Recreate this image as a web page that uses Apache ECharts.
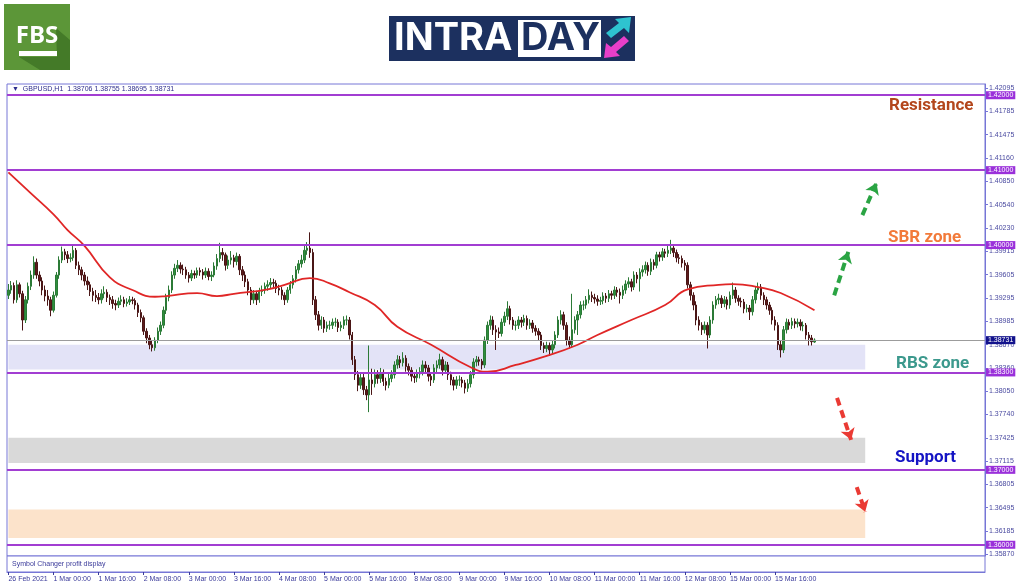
<!DOCTYPE html>
<html>
<head>
<meta charset="utf-8">
<script src="https://cdn.jsdelivr.net/npm/echarts@6.0.0/dist/echarts.min.js"></script>
<style>
  html, body { margin: 0; padding: 0; background: #fff; }
  #chart { width: 1024px; height: 587px; }
</style>
</head>
<body>
<div id="chart"></div>
<script>
// GBPUSD H1, 26 Feb 2021 08:00 .. 16 Mar 2021 (bars: open, close, low, high)
const candles = [
  [1.3933,1.3940,1.3928,1.3948],[1.3940,1.3946,1.3935,1.3952],[1.3946,1.3927,1.3922,1.3950],[1.3927,1.3947,1.3923,1.3953],
  [1.3947,1.3935,1.3930,1.3950],[1.3935,1.3900,1.3886,1.3939],[1.3900,1.3927,1.3896,1.3932],[1.3927,1.3945,1.3922,1.3950],
  [1.3945,1.3960,1.3940,1.3966],[1.3960,1.3977,1.3955,1.3985],[1.3977,1.3960,1.3955,1.3982],[1.3960,1.3952,1.3945,1.3965],
  [1.3952,1.3940,1.3933,1.3957],[1.3940,1.3932,1.3925,1.3946],[1.3932,1.3927,1.3919,1.3940],[1.3927,1.3913,1.3905,1.3931],
  [1.3913,1.3933,1.3910,1.3938],[1.3933,1.3960,1.3930,1.3964],[1.3960,1.3980,1.3955,1.3985],[1.3980,1.3991,1.3976,1.3998],
  [1.3991,1.3987,1.3980,1.3995],[1.3987,1.3982,1.3976,1.3992],[1.3982,1.3983,1.3977,1.3989],[1.3983,1.3993,1.3979,1.3999],
  [1.3993,1.3973,1.3968,1.3996],[1.3973,1.3967,1.3960,1.3978],[1.3967,1.3960,1.3953,1.3971],[1.3960,1.3952,1.3946,1.3964],
  [1.3952,1.3947,1.3940,1.3958],[1.3947,1.3938,1.3932,1.3951],[1.3938,1.3933,1.3925,1.3943],[1.3933,1.3930,1.3924,1.3940],
  [1.3930,1.3927,1.3921,1.3936],[1.3927,1.3935,1.3922,1.3941],[1.3935,1.3937,1.3929,1.3945],[1.3937,1.3930,1.3924,1.3941],
  [1.3930,1.3927,1.3920,1.3934],[1.3927,1.3922,1.3915,1.3932],[1.3922,1.3920,1.3913,1.3927],[1.3920,1.3925,1.3916,1.3930],
  [1.3925,1.3927,1.3920,1.3933],[1.3927,1.3922,1.3917,1.3931],[1.3922,1.3924,1.3918,1.3929],[1.3924,1.3927,1.3920,1.3932],
  [1.3927,1.3926,1.3921,1.3931],[1.3926,1.3920,1.3914,1.3929],[1.3920,1.3910,1.3904,1.3923],[1.3910,1.3903,1.3897,1.3914],
  [1.3903,1.3885,1.3880,1.3906],[1.3885,1.3876,1.3869,1.3889],[1.3876,1.3867,1.3861,1.3880],[1.3867,1.3863,1.3858,1.3872],
  [1.3863,1.3873,1.3859,1.3877],[1.3873,1.3885,1.3869,1.3890],[1.3885,1.3893,1.3880,1.3898],[1.3893,1.3913,1.3889,1.3918],
  [1.3913,1.3930,1.3908,1.3935],[1.3930,1.3940,1.3925,1.3946],[1.3940,1.3960,1.3936,1.3965],[1.3960,1.3969,1.3955,1.3975],
  [1.3969,1.3973,1.3964,1.3980],[1.3973,1.3968,1.3962,1.3977],[1.3968,1.3967,1.3960,1.3974],[1.3967,1.3960,1.3955,1.3971],
  [1.3960,1.3956,1.3950,1.3964],[1.3956,1.3962,1.3952,1.3967],[1.3962,1.3960,1.3955,1.3966],[1.3960,1.3966,1.3956,1.3970],
  [1.3966,1.3964,1.3959,1.3970],[1.3964,1.3960,1.3954,1.3968],[1.3960,1.3965,1.3956,1.3970],[1.3965,1.3958,1.3953,1.3969],
  [1.3958,1.3960,1.3952,1.3965],[1.3960,1.3972,1.3957,1.3977],[1.3972,1.3982,1.3967,1.3988],[1.3982,1.3990,1.3977,1.4003],
  [1.3990,1.3987,1.3979,1.3996],[1.3987,1.3973,1.3966,1.3990],[1.3973,1.3980,1.3968,1.3986],[1.3980,1.3983,1.3974,1.3992],
  [1.3983,1.3978,1.3970,1.3987],[1.3978,1.3985,1.3973,1.3990],[1.3985,1.3967,1.3960,1.3988],[1.3967,1.3960,1.3952,1.3972],
  [1.3960,1.3951,1.3944,1.3965],[1.3951,1.3940,1.3933,1.3955],[1.3940,1.3927,1.3920,1.3944],[1.3927,1.3935,1.3922,1.3940],
  [1.3935,1.3927,1.3920,1.3939],[1.3927,1.3938,1.3923,1.3943],[1.3938,1.3940,1.3932,1.3946],[1.3940,1.3945,1.3935,1.3950],
  [1.3945,1.3947,1.3939,1.3953],[1.3947,1.3950,1.3942,1.3956],[1.3950,1.3949,1.3943,1.3955],[1.3949,1.3942,1.3936,1.3953],
  [1.3942,1.3940,1.3933,1.3947],[1.3940,1.3933,1.3927,1.3944],[1.3933,1.3927,1.3920,1.3937],[1.3927,1.3940,1.3923,1.3944],
  [1.3940,1.3947,1.3935,1.3952],[1.3947,1.3955,1.3942,1.3960],[1.3955,1.3967,1.3950,1.3972],[1.3967,1.3975,1.3962,1.3980],
  [1.3975,1.3980,1.3970,1.3987],[1.3980,1.3993,1.3976,1.3999],[1.3993,1.3996,1.3987,1.4004],[1.3996,1.3990,1.3983,1.4017],
  [1.3990,1.3927,1.3920,1.3995],[1.3927,1.3907,1.3900,1.3932],[1.3907,1.3893,1.3886,1.3912],[1.3893,1.3900,1.3888,1.3905],
  [1.3900,1.3889,1.3883,1.3904],[1.3889,1.3893,1.3884,1.3898],[1.3893,1.3893,1.3887,1.3899],[1.3893,1.3897,1.3888,1.3902],
  [1.3897,1.3897,1.3891,1.3903],[1.3897,1.3890,1.3884,1.3901],[1.3890,1.3893,1.3885,1.3898],[1.3893,1.3900,1.3888,1.3905],
  [1.3900,1.3900,1.3893,1.3906],[1.3900,1.3880,1.3874,1.3904],[1.3880,1.3847,1.3840,1.3884],[1.3847,1.3827,1.3820,1.3852],
  [1.3827,1.3813,1.3805,1.3832],[1.3813,1.3823,1.3808,1.3830],[1.3823,1.3807,1.3800,1.3828],[1.3807,1.3800,1.3793,1.3812],
  [1.3800,1.3820,1.3777,1.3866],[1.3820,1.3815,1.3800,1.3835],[1.3815,1.3827,1.3810,1.3834],[1.3827,1.3822,1.3815,1.3833],
  [1.3822,1.3830,1.3816,1.3836],[1.3830,1.3818,1.3812,1.3834],[1.3818,1.3813,1.3806,1.3823],[1.3813,1.3822,1.3809,1.3828],
  [1.3822,1.3827,1.3817,1.3833],[1.3827,1.3840,1.3822,1.3845],[1.3840,1.3847,1.3835,1.3853],[1.3847,1.3843,1.3836,1.3852],
  [1.3843,1.3849,1.3838,1.3857],[1.3849,1.3838,1.3831,1.3853],[1.3838,1.3833,1.3826,1.3842],[1.3833,1.3825,1.3818,1.3837],
  [1.3825,1.3823,1.3816,1.3830],[1.3823,1.3828,1.3817,1.3834],[1.3828,1.3831,1.3822,1.3837],[1.3831,1.3840,1.3826,1.3846],
  [1.3840,1.3836,1.3829,1.3845],[1.3836,1.3825,1.3818,1.3840],[1.3825,1.3820,1.3812,1.3829],[1.3820,1.3836,1.3816,1.3841],
  [1.3836,1.3840,1.3830,1.3846],[1.3840,1.3847,1.3835,1.3855],[1.3847,1.3833,1.3826,1.3851],[1.3833,1.3840,1.3828,1.3845],
  [1.3840,1.3827,1.3820,1.3844],[1.3827,1.3820,1.3813,1.3831],[1.3820,1.3813,1.3806,1.3824],[1.3813,1.3820,1.3808,1.3825],
  [1.3820,1.3820,1.3812,1.3826],[1.3820,1.3816,1.3810,1.3824],[1.3816,1.3809,1.3802,1.3820],[1.3809,1.3815,1.3804,1.3821],
  [1.3815,1.3827,1.3810,1.3832],[1.3827,1.3844,1.3822,1.3849],[1.3844,1.3847,1.3838,1.3852],[1.3847,1.3845,1.3839,1.3851],
  [1.3845,1.3840,1.3834,1.3848],[1.3840,1.3873,1.3836,1.3878],[1.3873,1.3893,1.3868,1.3898],[1.3893,1.3900,1.3887,1.3906],
  [1.3900,1.3887,1.3880,1.3905],[1.3887,1.3884,1.3860,1.3893],[1.3884,1.3882,1.3876,1.3890],[1.3882,1.3897,1.3878,1.3902],
  [1.3897,1.3905,1.3892,1.3911],[1.3905,1.3915,1.3900,1.3925],[1.3915,1.3900,1.3894,1.3919],[1.3900,1.3893,1.3887,1.3904],
  [1.3893,1.3893,1.3886,1.3899],[1.3893,1.3900,1.3888,1.3905],[1.3900,1.3897,1.3890,1.3904],[1.3897,1.3902,1.3892,1.3907],
  [1.3902,1.3893,1.3887,1.3906],[1.3893,1.3896,1.3888,1.3901],[1.3896,1.3889,1.3883,1.3900],[1.3889,1.3885,1.3879,1.3893],
  [1.3885,1.3880,1.3873,1.3889],[1.3880,1.3866,1.3860,1.3884],[1.3866,1.3862,1.3856,1.3870],[1.3862,1.3866,1.3857,1.3871],
  [1.3866,1.3860,1.3852,1.3870],[1.3860,1.3867,1.3855,1.3872],[1.3867,1.3880,1.3862,1.3885],[1.3880,1.3900,1.3876,1.3905],
  [1.3900,1.3907,1.3894,1.3913],[1.3907,1.3893,1.3887,1.3911],[1.3893,1.3873,1.3866,1.3897],[1.3873,1.3867,1.3862,1.3878],
  [1.3867,1.3887,1.3863,1.3935],[1.3887,1.3900,1.3882,1.3905],[1.3900,1.3907,1.3880,1.3912],[1.3907,1.3920,1.3902,1.3925],
  [1.3920,1.3920,1.3913,1.3926],[1.3920,1.3927,1.3915,1.3932],[1.3927,1.3933,1.3922,1.3941],[1.3933,1.3930,1.3924,1.3938],
  [1.3930,1.3928,1.3922,1.3935],[1.3928,1.3925,1.3919,1.3933],[1.3925,1.3926,1.3920,1.3931],[1.3926,1.3932,1.3921,1.3937],
  [1.3932,1.3929,1.3923,1.3936],[1.3929,1.3935,1.3924,1.3940],[1.3935,1.3933,1.3927,1.3939],[1.3933,1.3940,1.3928,1.3945],
  [1.3940,1.3937,1.3931,1.3944],[1.3937,1.3933,1.3922,1.3942],[1.3933,1.3940,1.3928,1.3946],[1.3940,1.3948,1.3935,1.3953],
  [1.3948,1.3951,1.3943,1.3957],[1.3951,1.3944,1.3938,1.3955],[1.3944,1.3960,1.3940,1.3965],[1.3960,1.3955,1.3949,1.3964],
  [1.3955,1.3964,1.3938,1.3969],[1.3964,1.3967,1.3958,1.3973],[1.3967,1.3973,1.3962,1.3978],[1.3973,1.3965,1.3959,1.3977],
  [1.3965,1.3977,1.3960,1.3982],[1.3977,1.3973,1.3967,1.3981],[1.3973,1.3987,1.3969,1.3991],[1.3987,1.3984,1.3978,1.3991],
  [1.3984,1.3991,1.3979,1.3996],[1.3991,1.3989,1.3983,1.3995],[1.3989,1.3993,1.3984,1.3999],[1.3993,1.3996,1.3988,1.4007],
  [1.3996,1.3990,1.3984,1.4000],[1.3990,1.3983,1.3977,1.3994],[1.3983,1.3982,1.3975,1.3988],[1.3982,1.3976,1.3970,1.3986],
  [1.3976,1.3973,1.3966,1.3980],[1.3973,1.3947,1.3942,1.3977],[1.3947,1.3933,1.3926,1.3951],[1.3933,1.3920,1.3913,1.3937],
  [1.3920,1.3900,1.3893,1.3925],[1.3900,1.3893,1.3886,1.3905],[1.3893,1.3887,1.3880,1.3897],[1.3887,1.3893,1.3882,1.3898],
  [1.3893,1.3880,1.3862,1.3897],[1.3880,1.3900,1.3876,1.3905],[1.3900,1.3920,1.3895,1.3925],[1.3920,1.3927,1.3915,1.3932],
  [1.3927,1.3929,1.3921,1.3935],[1.3929,1.3922,1.3916,1.3933],[1.3922,1.3927,1.3917,1.3932],[1.3927,1.3920,1.3914,1.3931],
  [1.3920,1.3933,1.3915,1.3938],[1.3933,1.3940,1.3928,1.3950],[1.3940,1.3929,1.3923,1.3944],[1.3929,1.3925,1.3919,1.3933],
  [1.3925,1.3924,1.3917,1.3930],[1.3924,1.3915,1.3909,1.3928],[1.3915,1.3916,1.3910,1.3921],[1.3916,1.3911,1.3900,1.3920],
  [1.3911,1.3927,1.3906,1.3932],[1.3927,1.3940,1.3922,1.3945],[1.3940,1.3944,1.3935,1.3950],[1.3944,1.3933,1.3927,1.3948],
  [1.3933,1.3927,1.3920,1.3937],[1.3927,1.3920,1.3914,1.3931],[1.3920,1.3913,1.3907,1.3924],[1.3913,1.3900,1.3894,1.3917],
  [1.3900,1.3893,1.3886,1.3905],[1.3893,1.3867,1.3860,1.3897],[1.3867,1.3860,1.3850,1.3872],[1.3860,1.3887,1.3856,1.3892],
  [1.3887,1.3897,1.3882,1.3902],[1.3897,1.3893,1.3887,1.3901],[1.3893,1.3898,1.3888,1.3903],[1.3898,1.3895,1.3889,1.3902],
  [1.3895,1.3897,1.3890,1.3902],[1.3897,1.3892,1.3886,1.3901],[1.3892,1.3893,1.3885,1.3898],[1.3893,1.3880,1.3874,1.3896],
  [1.3880,1.3876,1.3866,1.3884],[1.3876,1.3871,1.3866,1.3880],[1.38706,1.38731,1.38695,1.38755]
];

// moving average: bar index -> price
const maIdx = [0, 8, 16, 21, 27, 36, 44, 52, 56, 67, 74, 80, 92, 98, 107, 114, 121, 130, 138, 150, 164, 170, 180, 191, 202, 209, 221, 233, 241, 252, 257, 266, 274, 286];
const maVal = [1.4097, 1.4069, 1.4041, 1.4020, 1.3999, 1.3957, 1.3940, 1.3931, 1.3932, 1.3936, 1.3932, 1.3935, 1.3941, 1.3947, 1.3956,
               1.3949, 1.3937, 1.3920, 1.3891, 1.3867, 1.3837, 1.3831, 1.3840, 1.3852, 1.3867, 1.3880, 1.3900, 1.3920, 1.3941, 1.3947,
               1.3948, 1.3944, 1.3936, 1.3913];

const xLabels = ['26 Feb 2021', '1 Mar 00:00', '1 Mar 16:00', '2 Mar 08:00', '3 Mar 00:00', '3 Mar 16:00', '4 Mar 08:00',
                 '5 Mar 00:00', '5 Mar 16:00', '8 Mar 08:00', '9 Mar 00:00', '9 Mar 16:00', '10 Mar 08:00', '11 Mar 00:00',
                 '11 Mar 16:00', '12 Mar 08:00', '15 Mar 00:00', '15 Mar 16:00'];
const yTicks = [1.42095, 1.41785, 1.41475, 1.41160, 1.40850, 1.40540, 1.40230, 1.39915, 1.39605, 1.39295, 1.38985,
                1.38670, 1.38360, 1.38050, 1.37740, 1.37425, 1.37115, 1.36805, 1.36495, 1.36185, 1.35870];
const levels = [1.42, 1.41, 1.40, 1.383, 1.37, 1.36];
const lastPrice = 1.38731;
const zoneTop = [1.3867, 1.3743, 1.3647];
const zoneBottom = [1.3834, 1.3709, 1.3609];
const upArrows = [[[293, 1.3933], [298, 1.3991]], [[303, 1.4040], [308, 1.4083]]];
const downArrows = [[[294, 1.3796], [299, 1.3740]], [[301, 1.3677], [304, 1.3644]]];

const SLOTS = 347;      // bar slots across the window (chart shifted left)
const ZONE_END = 304;
const LABEL_STEP = 16;
const zoneColors = ['#e3e3f7', '#d9d9d9', '#fce3cb'];
const frame = '#7676d6';
const axisFont = 'Liberation Sans';

const cats = Array.from({ length: SLOTS }, (_, i) => i);
const showTick = (i) => i % LABEL_STEP === 0 && i / LABEL_STEP < xLabels.length;

const myChart = echarts.init(document.getElementById('chart'));

const levelLines = levels.map((v) => ({
  yAxis: v,
  lineStyle: { color: '#a23ed2', width: 2, type: 'solid' },
  label: { backgroundColor: '#9a30da' }
}));
levelLines.push({
  yAxis: lastPrice,
  lineStyle: { color: '#9c9c9c', width: 1, type: 'solid' },
  label: { backgroundColor: '#12128c' }
});

const arrowLine = (pair, color) => [
  { coord: pair[0], lineStyle: { color: color, width: 4, type: [8, 5] }, itemStyle: { color: color } },
  { coord: pair[1] }
];

myChart.setOption({
  animation: false,
  backgroundColor: '#fff',
  grid: [
    { left: 7, right: 39, top: 84, height: 472, show: true, borderColor: frame, borderWidth: 1, backgroundColor: '#fff' },
    { left: 7, right: 39, top: 556, height: 16, show: true, borderColor: frame, borderWidth: 1, backgroundColor: '#fff' }
  ],
  xAxis: [
    {
      type: 'category', gridIndex: 0, data: cats, boundaryGap: true,
      axisLine: { show: false }, axisTick: { show: false }, axisLabel: { show: false }, splitLine: { show: false }
    },
    {
      type: 'category', gridIndex: 1, data: cats, boundaryGap: true, position: 'bottom',
      axisLine: { show: true, lineStyle: { color: frame } },
      axisTick: { show: true, alignWithLabel: true, interval: showTick, length: 3, lineStyle: { color: '#3a3a9a' } },
      axisLabel: {
        interval: showTick, align: 'left', margin: 4, fontSize: 7, fontFamily: axisFont, color: '#3a3a9a',
        formatter: (v) => xLabels[Number(v) / LABEL_STEP] || ''
      },
      splitLine: { show: false }
    }
  ],
  yAxis: [
    {
      type: 'value', gridIndex: 0, position: 'right', min: 1.3585, max: 1.4215, scale: true,
      axisLine: { show: true, lineStyle: { color: frame } },
      axisTick: { show: true, length: 3, customValues: yTicks, lineStyle: { color: frame } },
      axisLabel: {
        customValues: yTicks, margin: 4, fontSize: 7, fontFamily: axisFont, color: '#4a4aa0',
        formatter: (v) => v.toFixed(5)
      },
      splitLine: { show: false }
    },
    { type: 'value', gridIndex: 1, show: false }
  ],
  series: [
    {
      type: 'candlestick',
      xAxisIndex: 0, yAxisIndex: 0,
      data: candles,
      barWidth: '70%',
      itemStyle: {
        color: '#2f8f3e', color0: '#5e1b1b',
        borderColor: '#2b7a36', borderColor0: '#4a1616', borderWidth: 1
      },
      markArea: {
        silent: true,
        data: zoneTop.map((t, k) => [
          { xAxis: 0, yAxis: t, itemStyle: { color: zoneColors[k] } },
          { xAxis: ZONE_END, yAxis: zoneBottom[k] }
        ])
      },
      markLine: {
        silent: true,
        precision: 5,
        symbol: ['none', 'none'],
        label: {
          show: true, position: 'end', distance: 1, color: '#fff', fontSize: 7, fontFamily: axisFont,
          padding: [1, 2, 0, 2], formatter: (p) => Number(p.value).toFixed(5)
        },
        data: levelLines
      }
    },
    {
      type: 'line',
      xAxisIndex: 0, yAxisIndex: 0,
      data: maIdx.map((i, k) => [i, maVal[k]]),
      smooth: 0.5,
      showSymbol: false,
      lineStyle: { color: '#e02626', width: 1.8 },
      itemStyle: { color: '#e02626' },
      markLine: {
        silent: true,
        precision: 5,
        symbol: ['none', 'arrow'],
        symbolSize: [11, 11],
        label: { show: false },
        data: upArrows.map((a) => arrowLine(a, '#2aa443')).concat(downArrows.map((a) => arrowLine(a, '#ea3a34')))
      }
    }
  ],
  graphic: [
    // FBS logo
    { type: 'rect', shape: { x: 4, y: 4, width: 66, height: 66 }, style: { fill: '#5c9638' } },
    { type: 'polygon', shape: { points: [[56, 28], [70, 40], [70, 70], [40, 70], [19, 57], [57, 57]] }, style: { fill: '#447a28' } },
    { type: 'text', x: 37, y: 36, style: { text: 'FBS', fill: '#fff', fontSize: 24, fontWeight: 'bold', fontFamily: 'Open Sans', align: 'center', verticalAlign: 'middle' } },
    { type: 'rect', shape: { x: 19, y: 51, width: 38, height: 5 }, style: { fill: '#fff' } },
    // INTRADAY logo
    { type: 'rect', shape: { x: 389, y: 16, width: 246, height: 45 }, style: { fill: '#1c305f' } },
    { type: 'text', x: 394, y: 39, style: { text: 'INTRA', fill: '#fff', fontSize: 38, fontWeight: 'bold', fontFamily: 'Inter', verticalAlign: 'middle' } },
    { type: 'rect', shape: { x: 518, y: 20, width: 83, height: 37 }, style: { fill: '#fff' } },
    { type: 'text', x: 521, y: 39, style: { text: 'DAY', fill: '#1c305f', fontSize: 38, fontWeight: 'bold', fontFamily: 'Inter', verticalAlign: 'middle' } },
    { type: 'polygon', shape: { points: [[606, 33], [619, 23], [615, 19], [631, 17], [629, 33], [624, 28], [611, 38]] }, style: { fill: '#2ec3d0' } },
    { type: 'polygon', shape: { points: [[629, 41], [616, 52], [620, 56], [604, 58], [606, 43], [611, 47], [624, 36]] }, style: { fill: '#e83fc9' } },
    // window texts
    { type: 'text', x: 12, y: 89, style: { text: '\u25BC  GBPUSD,H1  1.38706 1.38755 1.38695 1.38731', fill: '#2c2c8c', fontSize: 7, fontFamily: axisFont, verticalAlign: 'middle' } },
    { type: 'text', x: 12, y: 564, style: { text: 'Symbol Changer profit display', fill: '#3a3a9a', fontSize: 7, fontFamily: axisFont, verticalAlign: 'middle' } },
    // annotations
    { type: 'text', x: 889, y: 106, style: { text: 'Resistance', fill: '#b3461c', fontSize: 17, fontWeight: 'bold', fontFamily: 'Roboto', verticalAlign: 'middle' } },
    { type: 'text', x: 888, y: 238, style: { text: 'SBR zone', fill: '#f27a3a', fontSize: 17, fontWeight: 'bold', fontFamily: 'Roboto', verticalAlign: 'middle' } },
    { type: 'text', x: 896, y: 364, style: { text: 'RBS zone', fill: '#3c998d', fontSize: 17, fontWeight: 'bold', fontFamily: 'Roboto', verticalAlign: 'middle' } },
    { type: 'text', x: 895, y: 458, style: { text: 'Support', fill: '#1414c4', fontSize: 17, fontWeight: 'bold', fontFamily: 'Roboto', verticalAlign: 'middle' } }
  ]
});
</script>
</body>
</html>
